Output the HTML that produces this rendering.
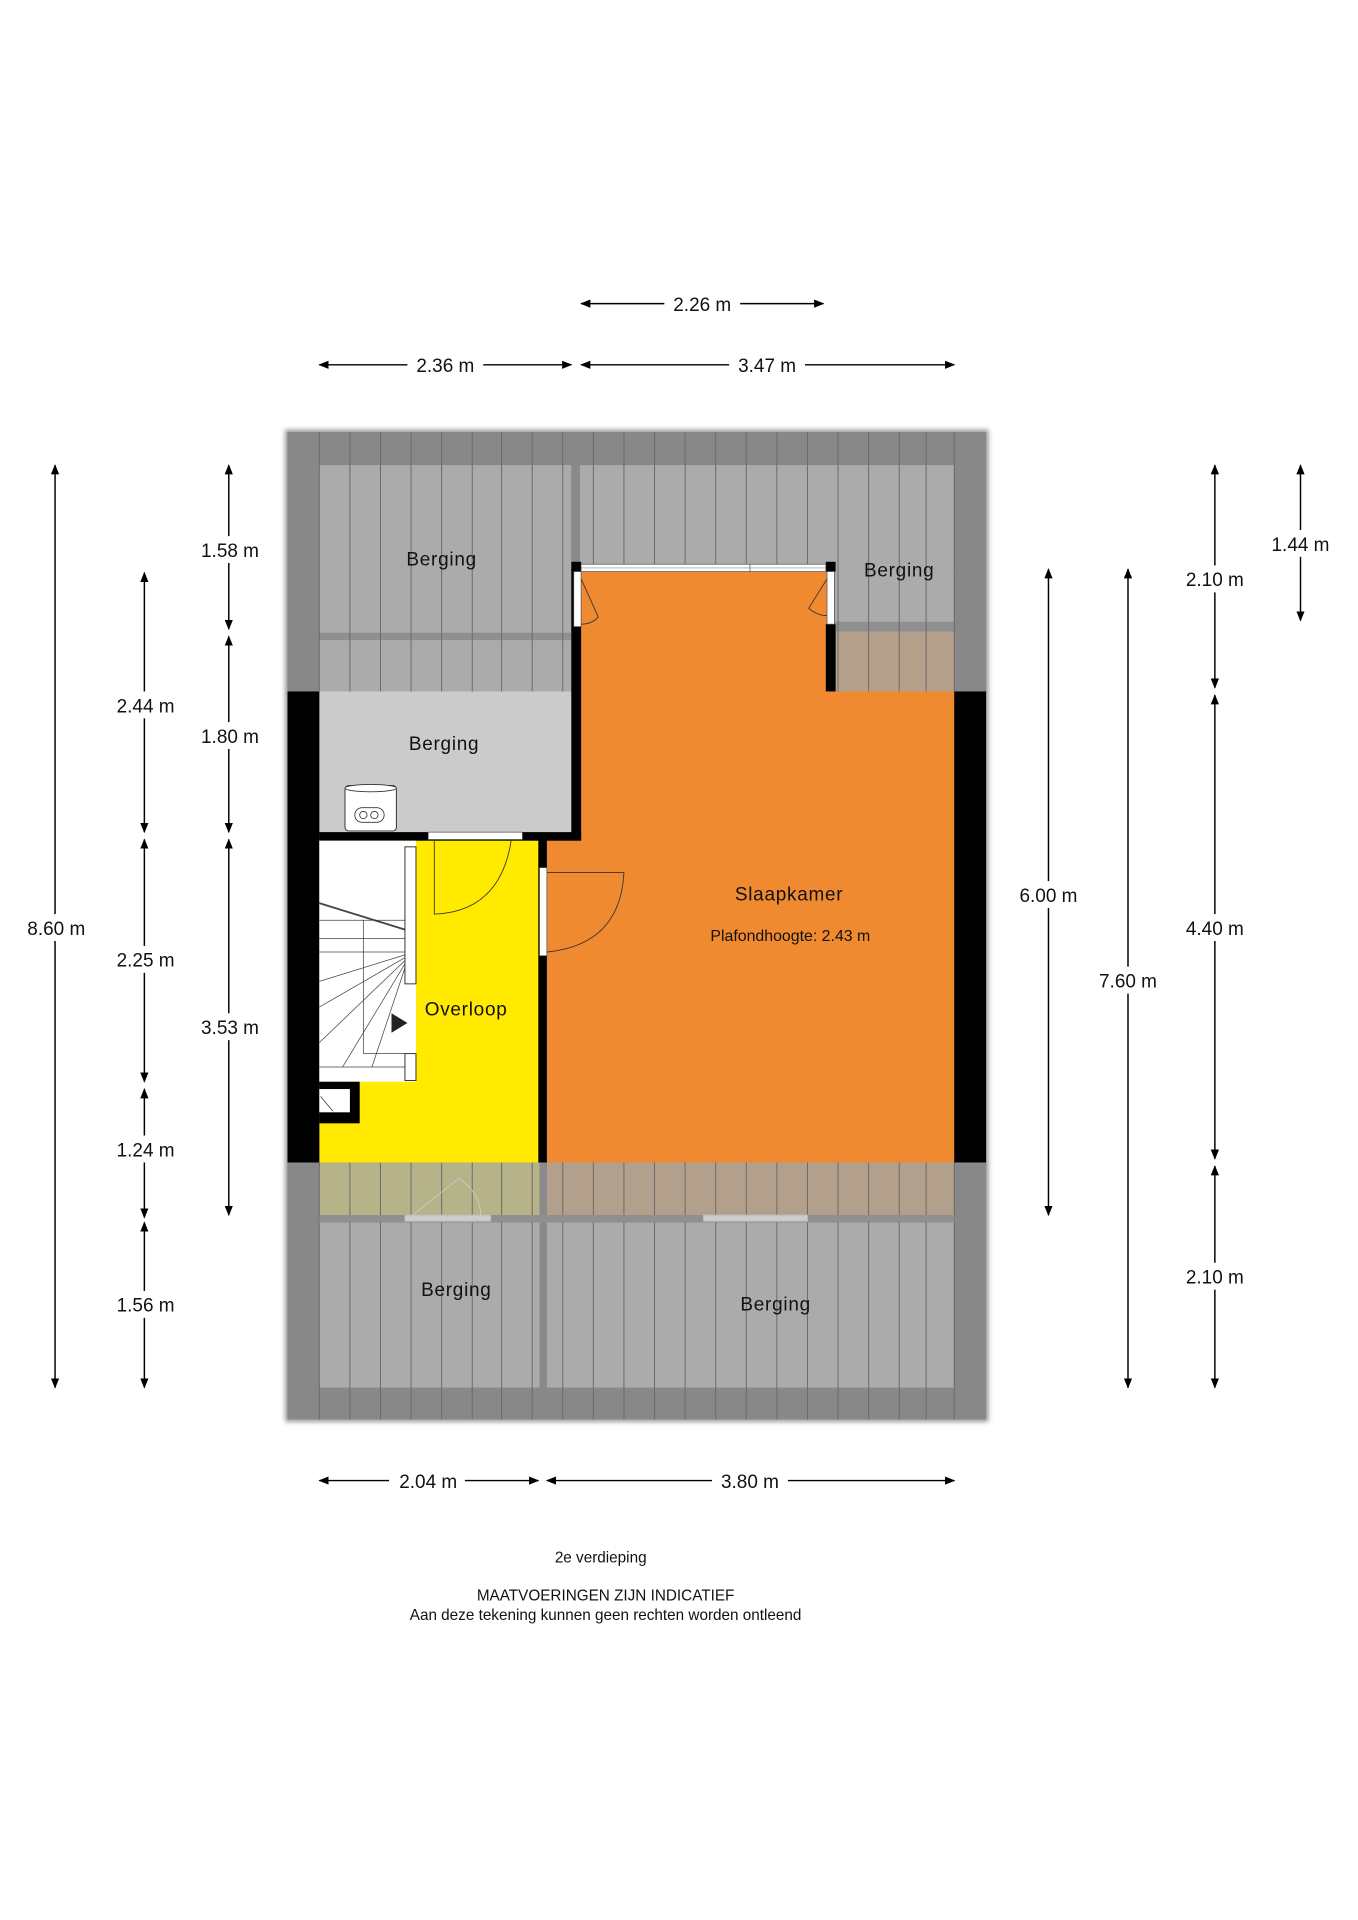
<!DOCTYPE html>
<html><head><meta charset="utf-8"><style>
html,body{margin:0;padding:0;background:#fff;}
svg{display:block;}
text{font-family:"Liberation Sans",sans-serif;fill:#111;}
</style></head><body>
<svg width="1358" height="1920" viewBox="0 0 1110 1569" xmlns="http://www.w3.org/2000/svg">
<defs>
<marker id="a" viewBox="0 0 10 10" refX="9" refY="5" markerWidth="7" markerHeight="7" orient="auto-start-reverse"><path d="M0,1 L10,5 L0,9 z" fill="#000"/></marker>
<filter id="sh" x="-5%" y="-5%" width="110%" height="110%"><feGaussianBlur stdDeviation="2"/></filter>
</defs>
<!-- shadow -->
<rect x="233" y="351" width="575" height="811" fill="#999" filter="url(#sh)"/>
<!-- base dark roof -->
<rect x="235" y="353" width="571" height="807" fill="#888"/>
<!-- top storage light -->
<rect x="261" y="380" width="206" height="185" fill="#ababab"/>
<rect x="474" y="380" width="306" height="85" fill="#ababab"/>
<rect x="680" y="465" width="100" height="45" fill="#ababab"/>
<rect x="261" y="517" width="206" height="6" fill="#8f8f8f"/>
<rect x="680" y="508" width="100" height="8" fill="#8f8f8f"/>
<rect x="683" y="516" width="97" height="49" fill="#b5a08c"/>
<!-- bottom storage -->
<rect x="261" y="950" width="180" height="43" fill="#b5b387"/>
<rect x="447" y="950" width="333" height="43" fill="#b3a08c"/>
<rect x="261" y="999" width="180" height="135" fill="#ababab"/>
<rect x="447" y="999" width="333" height="135" fill="#ababab"/>
<!-- vertical roof lines -->
<g stroke="#6a6a6a" stroke-width="0.8">
<line x1="261" y1="353" x2="261" y2="1160"/><line x1="286" y1="353" x2="286" y2="1160"/><line x1="311" y1="353" x2="311" y2="1160"/><line x1="336" y1="353" x2="336" y2="1160"/><line x1="361" y1="353" x2="361" y2="1160"/><line x1="386" y1="353" x2="386" y2="1160"/><line x1="410" y1="353" x2="410" y2="1160"/><line x1="435" y1="353" x2="435" y2="1160"/><line x1="460" y1="353" x2="460" y2="1160"/><line x1="485" y1="353" x2="485" y2="1160"/><line x1="510" y1="353" x2="510" y2="1160"/><line x1="535" y1="353" x2="535" y2="1160"/><line x1="560" y1="353" x2="560" y2="1160"/><line x1="585" y1="353" x2="585" y2="1160"/><line x1="610" y1="353" x2="610" y2="1160"/><line x1="635" y1="353" x2="635" y2="1160"/><line x1="660" y1="353" x2="660" y2="1160"/><line x1="685" y1="353" x2="685" y2="1160"/><line x1="710" y1="353" x2="710" y2="1160"/><line x1="735" y1="353" x2="735" y2="1160"/><line x1="757" y1="353" x2="757" y2="1160"/><line x1="780" y1="353" x2="780" y2="1160"/>
</g>
<rect x="467" y="380" width="7" height="185" fill="#8a8a8a"/>
<rect x="441" y="950" width="6" height="184" fill="#8a8a8a"/>
<rect x="261" y="993" width="519" height="6" fill="#8f8f8f"/>
<!-- interior rooms -->
<rect x="474" y="465" width="206" height="100" fill="#f08a30"/>
<rect x="447" y="565" width="333" height="385" fill="#f08a30"/>
<rect x="261" y="565" width="206" height="115" fill="#cbcbcb"/>
<rect x="261" y="686" width="180" height="264" fill="#ffea00"/>
<!-- walls -->
<g fill="#000">
<rect x="235" y="565" width="26" height="385"/>
<rect x="780" y="565" width="26" height="385"/>
<rect x="467" y="465" width="8" height="221"/>
<rect x="261" y="680" width="214" height="7"/>
<rect x="440" y="686" width="7" height="264"/>
<rect x="675" y="510" width="8" height="55"/>
<rect x="467" y="459" width="8" height="8"/><rect x="675" y="459" width="8" height="8"/>
</g>
<!-- top window -->
<rect x="475" y="461" width="200" height="6" fill="#fff" stroke="#555" stroke-width="0.6"/>
<line x1="475" y1="464" x2="675" y2="464" stroke="#888" stroke-width="0.5"/>
<line x1="613" y1="461" x2="613" y2="467" stroke="#555" stroke-width="0.6"/>
<!-- side small doors -->
<rect x="469" y="467" width="6" height="45" fill="#fff" stroke="#555" stroke-width="0.6"/>
<path d="M475,473 L489,504 Q484,510 475,510" fill="none" stroke="#333" stroke-width="0.7"/>
<rect x="676" y="467" width="6" height="43" fill="#fff" stroke="#555" stroke-width="0.6"/>
<path d="M676,473 L661,497 Q668,503 676,503" fill="none" stroke="#333" stroke-width="0.7"/>
<!-- boiler -->
<rect x="282" y="642" width="42" height="37" fill="#fff" stroke="#333" stroke-width="0.8" rx="3"/>
<ellipse cx="303" cy="644" rx="21" ry="3" fill="#fff" stroke="#333" stroke-width="0.7"/>
<rect x="290" y="660" width="24" height="12" rx="6" fill="none" stroke="#333" stroke-width="0.7"/>
<circle cx="297" cy="666" r="3" fill="none" stroke="#333" stroke-width="0.7"/><circle cx="306" cy="666" r="3" fill="none" stroke="#333" stroke-width="0.7"/>
<!-- door berging -> overloop -->
<rect x="350" y="680" width="77" height="6" fill="#fff" stroke="#555" stroke-width="0.6"/>
<path d="M355,686 L355,747 Q409,745 418,686" fill="none" stroke="#333" stroke-width="0.7"/>
<!-- door overloop -> slaapkamer -->
<rect x="441" y="709" width="6" height="72" fill="#fff" stroke="#555" stroke-width="0.6"/>
<path d="M447,713 L510,713 Q507,772 447,778" fill="none" stroke="#333" stroke-width="0.7"/>
<!-- stairs -->
<rect x="261" y="687" width="79" height="197" fill="#fff"/>
<g stroke="#444" stroke-width="0.6" fill="none">
<line x1="261" y1="738" x2="332" y2="760" stroke-width="1.5"/>
<line x1="261" y1="752" x2="332" y2="752"/><line x1="261" y1="767" x2="332" y2="767"/>
<line x1="261" y1="778" x2="332" y2="778"/>
<line x1="332" y1="780" x2="261" y2="802"/><line x1="332" y1="782" x2="261" y2="823"/>
<line x1="332" y1="784" x2="261" y2="852"/><line x1="332" y1="786" x2="280" y2="872"/>
<line x1="332" y1="788" x2="304" y2="872"/>
<line x1="297" y1="752" x2="297" y2="861"/><line x1="297" y1="861" x2="332" y2="861"/>
<line x1="261" y1="872" x2="340" y2="872"/>
</g>
<rect x="331" y="692" width="9" height="112" fill="#fff" stroke="#333" stroke-width="0.8"/>
<rect x="331" y="861" width="9" height="22" fill="#fff" stroke="#333" stroke-width="0.8"/>
<path d="M320,828 L333,836 L320,844 z" fill="#222"/>
<rect x="261" y="884" width="33" height="34" fill="#000"/>
<rect x="261" y="890" width="25" height="19" fill="#fff"/>
<line x1="262" y1="896" x2="272" y2="908" stroke="#444" stroke-width="0.7"/>
<!-- bottom doors (faint) -->
<g stroke="#bbb" stroke-width="0.8" fill="#ccc">
<rect x="331" y="993" width="70" height="5"/>
<rect x="575" y="993" width="85" height="5"/>
</g>
<path d="M336,994 L375,963 Q393,975 393,994" fill="none" stroke="#ccc" stroke-width="0.7"/>
<!-- labels -->
<g font-size="15.5" text-anchor="middle" letter-spacing="0.6">
<text x="361" y="462">Berging</text>
<text x="735" y="471">Berging</text>
<text x="363" y="613">Berging</text>
<text x="381" y="830">Overloop</text>
<text x="645" y="736">Slaapkamer</text>
<text x="373" y="1059">Berging</text>
<text x="634" y="1071">Berging</text>
</g>
<text x="646" y="769" font-size="13" text-anchor="middle">Plafondhoogte: 2.43 m</text>
<!-- dimension lines -->
<g stroke="#000" stroke-width="1.2" marker-start="url(#a)" marker-end="url(#a)">
<line x1="475" y1="248" x2="673" y2="248"/>
<line x1="261" y1="298" x2="467" y2="298"/>
<line x1="475" y1="298" x2="780" y2="298"/>
<line x1="261" y1="1210" x2="440" y2="1210"/>
<line x1="447" y1="1210" x2="780" y2="1210"/>
<line x1="45" y1="380" x2="45" y2="1134"/>
<line x1="118" y1="468" x2="118" y2="680"/>
<line x1="118" y1="686" x2="118" y2="884"/>
<line x1="118" y1="890" x2="118" y2="995"/>
<line x1="118" y1="999" x2="118" y2="1134"/>
<line x1="187" y1="380" x2="187" y2="514"/>
<line x1="187" y1="520" x2="187" y2="680"/>
<line x1="187" y1="686" x2="187" y2="993"/>
<line x1="857" y1="465" x2="857" y2="993"/>
<line x1="922" y1="465" x2="922" y2="1134"/>
<line x1="993" y1="380" x2="993" y2="562"/>
<line x1="993" y1="568" x2="993" y2="947"/>
<line x1="993" y1="953" x2="993" y2="1134"/>
<line x1="1063" y1="380" x2="1063" y2="507"/>
</g>
<g font-size="15.5" text-anchor="middle">
<g fill="#fff">
<rect x="543" y="238" width="62" height="20"/><rect x="333" y="288" width="62" height="20"/><rect x="596" y="288" width="62" height="20"/>
<rect x="318" y="1200" width="62" height="20"/><rect x="582" y="1200" width="62" height="20"/>
<rect x="16" y="747" width="60" height="22"/>
<rect x="88" y="565" width="60" height="22"/><rect x="88" y="773" width="60" height="22"/><rect x="88" y="928" width="60" height="22"/><rect x="88" y="1055" width="60" height="22"/>
<rect x="157" y="438" width="60" height="22"/><rect x="157" y="590" width="60" height="22"/><rect x="157" y="828" width="60" height="22"/>
<rect x="827" y="720" width="60" height="22"/><rect x="892" y="790" width="60" height="22"/>
<rect x="963" y="462" width="60" height="22"/><rect x="963" y="747" width="60" height="22"/><rect x="963" y="1032" width="60" height="22"/>
<rect x="1033" y="433" width="60" height="22"/>
</g>
<text x="574" y="254">2.26 m</text>
<text x="364" y="304">2.36 m</text>
<text x="627" y="304">3.47 m</text>
<text x="350" y="1216">2.04 m</text>
<text x="613" y="1216">3.80 m</text>
<text x="46" y="764">8.60 m</text>
<text x="119" y="582">2.44 m</text>
<text x="119" y="790">2.25 m</text>
<text x="119" y="945">1.24 m</text>
<text x="119" y="1072">1.56 m</text>
<text x="188" y="455">1.58 m</text>
<text x="188" y="607">1.80 m</text>
<text x="188" y="845">3.53 m</text>
<text x="857" y="737">6.00 m</text>
<text x="922" y="807">7.60 m</text>
<text x="993" y="479">2.10 m</text>
<text x="993" y="764">4.40 m</text>
<text x="993" y="1049">2.10 m</text>
<text x="1063" y="450">1.44 m</text>
</g>
<g font-size="12.5" text-anchor="middle">
<text x="491" y="1277">2e verdieping</text>
<text x="495" y="1308">MAATVOERINGEN ZIJN INDICATIEF</text>
<text x="495" y="1324">Aan deze tekening kunnen geen rechten worden ontleend</text>
</g>
</svg>
</body></html>
